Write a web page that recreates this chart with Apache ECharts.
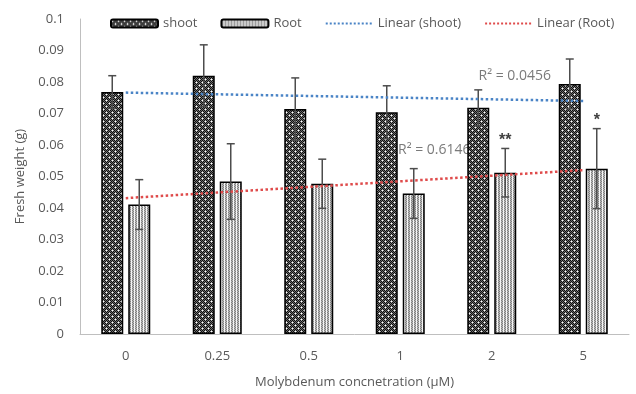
<!DOCTYPE html>
<html><head><meta charset="utf-8">
<script src="https://cdn.jsdelivr.net/npm/echarts@6/dist/echarts.min.js"></script>
<style>html,body{margin:0;padding:0;background:#fff}#c{width:636px;height:394px}</style>
</head><body><div id="c"></div>
<script>
var categories = ['0', '0.25', '0.5', '1', '2', '5'];
var shoot = [0.0768, 0.0820, 0.0714, 0.0704, 0.0718, 0.0794];
var shootErr = [0.0052, 0.0098, 0.0099, 0.0084, 0.0057, 0.0079];
var root = [0.0411, 0.0484, 0.0477, 0.0446, 0.0512, 0.0525];
var rootErr = [0.0079, 0.0120, 0.0078, 0.0079, 0.0077, 0.0127];
var rootSig = ['', '', '', '', '**', '*'];
var yTicks = [0, 0.01, 0.02, 0.03, 0.04, 0.05, 0.06, 0.07, 0.08, 0.09, 0.1];
var shootR2Text = 'R\u00b2 = 0.0456';
var rootR2Text = 'R\u00b2 = 0.6146';
var shootR2At = 4, rootR2At = 3;

function linFit(ys) {
  var n = ys.length, sx = 0, sy = 0, sxx = 0, sxy = 0;
  for (var i = 0; i < n; i++) { var x = i + 1; sx += x; sy += ys[i]; sxx += x * x; sxy += x * ys[i]; }
  var b = (n * sxy - sx * sy) / (n * sxx - sx * sx);
  var a = (sy - b * sx) / n;
  return ys.map(function (_, i) { return a + b * (i + 1); });
}
var shootFit = linFit(shoot), rootFit = linFit(root);

function makePattern(w, h, draw) {
  var c = document.createElement('canvas'); c.width = w; c.height = h;
  var ctx = c.getContext('2d'); draw(ctx); return { image: c, repeat: 'repeat' };
}
var shootPat = makePattern(6, 6, function (ctx) {
  for (var x = 0; x < 6; x++) for (var y = 0; y < 6; y++) {
    ctx.fillStyle = ((x + y) % 2 === 0) ? '#0e0e0e' : '#6a6a6a';
    ctx.fillRect(x, y, 1, 1);
  }
  ctx.fillStyle = '#ffffff'; ctx.fillRect(1, 1, 1, 1); ctx.fillRect(4, 4, 1, 1);
  ctx.fillStyle = '#a8a8a8'; ctx.fillRect(0, 1, 1, 1); ctx.fillRect(2, 1, 1, 1); ctx.fillRect(1, 0, 1, 1); ctx.fillRect(1, 2, 1, 1);
  ctx.fillRect(3, 4, 1, 1); ctx.fillRect(5, 4, 1, 1); ctx.fillRect(4, 3, 1, 1); ctx.fillRect(4, 5, 1, 1);
});
var rootPat = makePattern(3, 2, function (ctx) {
  ctx.fillStyle = '#f6f6f6'; ctx.fillRect(0, 0, 3, 2);
  ctx.fillStyle = '#808080'; ctx.fillRect(0, 0, 1, 1); ctx.fillRect(1, 1, 1, 1);
  ctx.fillStyle = '#b8b8b8'; ctx.fillRect(0, 1, 1, 1); ctx.fillRect(1, 0, 1, 1);
});

var BAR_W = 22, BAR_GAP = 5;
function errRender(sign, vals, errs, sigs) {
  return function (params, api) {
    var i = api.value(0);
    var c = api.coord([i, vals[i]]);
    var x = c[0] + sign * (BAR_W + BAR_GAP) / 2;
    var top = api.coord([i, vals[i] + errs[i]])[1];
    var bot = api.coord([i, vals[i] - errs[i]])[1];
    var st = { stroke: '#4d4d4d', lineWidth: 1.5 };
    var ch = [
      { type: 'line', shape: { x1: x, y1: top, x2: x, y2: bot }, style: st },
      { type: 'line', shape: { x1: x - 4, y1: top, x2: x + 4, y2: top }, style: st },
      { type: 'line', shape: { x1: x - 4, y1: bot, x2: x + 4, y2: bot }, style: st }
    ];
    if (sigs && sigs[i]) {
      ch.push({ type: 'text', x: x, y: top, style: { text: sigs[i], fill: '#404040', font: 'bold 16px "Liberation Sans"', align: 'center', verticalAlign: 'bottom' } });
    }
    return { type: 'group', children: ch };
  };
}

var chart = echarts.init(document.getElementById('c'), null, { renderer: 'canvas' });
var txt = '#595959';
chart.setOption({
  animation: false,
  textStyle: { fontFamily: '"Open Sans", "Liberation Sans", sans-serif' },
  grid: { left: 80, right: 7, top: 19, bottom: 59, containLabel: false },
  legend: {
    top: 12, left: 105, itemWidth: 47, itemHeight: 8, itemGap: 23,
    textStyle: { color: txt, fontSize: 13 },
    data: [
      'shoot', 'Root',
      { name: 'Linear (shoot)', itemStyle: { opacity: 0 } },
      { name: 'Linear (Root)', itemStyle: { opacity: 0 } }
    ]
  },
  xAxis: {
    type: 'category', data: categories,
    axisLine: { lineStyle: { color: '#bfbfbf', width: 1 } },
    axisTick: { show: false },
    axisLabel: { color: txt, fontSize: 13, margin: 16 },
    name: 'Molybdenum concnetration (\u00b5M)', nameLocation: 'middle', nameGap: 42,
    nameTextStyle: { color: txt, fontSize: 13 }
  },
  yAxis: {
    type: 'value', min: yTicks[0], max: yTicks[yTicks.length - 1], interval: yTicks[1] - yTicks[0],
    axisLine: { show: true, lineStyle: { color: '#bfbfbf', width: 1 } },
    axisTick: { show: false }, splitLine: { show: false },
    axisLabel: { color: txt, fontSize: 13, margin: 16, formatter: function (v) { return String(+v.toFixed(2)); } },
    name: 'Fresh weight (g)', nameLocation: 'middle', nameGap: 53, nameRotate: 90,
    nameTextStyle: { color: txt, fontSize: 13 }
  },
  series: [
    { name: 'shoot', type: 'bar', data: shoot, barWidth: BAR_W, barGap: (BAR_GAP / BAR_W * 100) + '%', z: 2,
      itemStyle: { color: shootPat, borderColor: '#000', borderWidth: 1.5 } },
    { name: 'Root', type: 'bar', data: root, barWidth: BAR_W, z: 2,
      itemStyle: { color: rootPat, borderColor: '#000', borderWidth: 1.5 } },
    { name: 'shootErr', type: 'custom', data: categories.map(function (_, i) { return [i]; }), z: 3,
      renderItem: errRender(-1, shoot, shootErr, null) },
    { name: 'rootErr', type: 'custom', data: categories.map(function (_, i) { return [i]; }), z: 3,
      renderItem: errRender(1, root, rootErr, rootSig) },
    { name: 'Linear (shoot)', type: 'line', data: shootFit, symbol: 'none', showSymbol: false, z: 4,
      itemStyle: { color: '#4a84c6' },
      lineStyle: { color: '#4a84c6', type: 'dotted', width: 2.5 } },
    { name: 'Linear (Root)', type: 'line', data: rootFit, symbol: 'none', showSymbol: false, z: 4,
      itemStyle: { color: '#df4b4b' },
      lineStyle: { color: '#df4b4b', type: 'dotted', width: 2.5 } },
    { name: 'r2', type: 'scatter', z: 1, symbolSize: 0, silent: true,
      data: [
        { value: [shootR2At, shootFit[shootR2At]], label: { show: true, formatter: shootR2Text, offset: [23, -23] } },
        { value: [rootR2At, rootFit[rootR2At]], label: { show: true, formatter: rootR2Text, offset: [34, -31] } }
      ],
      label: { position: 'inside', color: txt, fontSize: 14 } }
  ]
});
</script></body></html>
